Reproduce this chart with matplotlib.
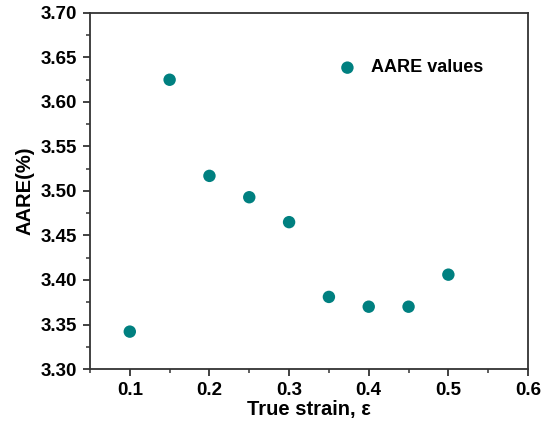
import numpy as np
import matplotlib.pyplot as plt
from matplotlib.ticker import MultipleLocator

plt.rcParams['font.family'] = ['Liberation Sans', 'DejaVu Sans']

strain = [0.10, 0.15, 0.20, 0.25, 0.30, 0.35, 0.40, 0.45, 0.50]
aare = [3.342, 3.625, 3.517, 3.493, 3.465, 3.381, 3.370, 3.370, 3.406]

fig = plt.figure(figsize=(5.43, 4.26), dpi=100)
ax = fig.add_axes([0.1657, 0.1338, 0.8067, 0.8357])

ax.scatter(strain, aare, s=80, color="#008080", edgecolors="none",
           label="AARE values", zorder=3)

ax.set_xlim(0.05, 0.6)
ax.set_ylim(3.30, 3.70)
ax.xaxis.set_major_locator(MultipleLocator(0.1))
ax.xaxis.set_minor_locator(MultipleLocator(0.05))
ax.yaxis.set_major_locator(MultipleLocator(0.05))
ax.yaxis.set_minor_locator(MultipleLocator(0.025))
ax.xaxis.set_major_formatter(plt.FuncFormatter(lambda v, p: f"{v:.1f}"))
ax.yaxis.set_major_formatter(plt.FuncFormatter(lambda v, p: f"{v:.2f}"))

for s in ax.spines.values():
    s.set_linewidth(1.3)
    s.set_color("#333333")
ax.tick_params(which="major", direction="out", length=5, width=1.3,
               labelsize=13.5, colors="#333333", labelcolor="black", pad=4)
ax.tick_params(which="minor", direction="out", length=3, width=1.1,
               colors="#333333")
for lab in ax.get_xticklabels() + ax.get_yticklabels():
    lab.set_fontweight("bold")

ax.set_xlabel("True strain, ε", fontsize=14.5, fontweight="bold", labelpad=1)
ax.set_ylabel("AARE(%)", fontsize=14.5, fontweight="bold", labelpad=5)

ax.legend(loc="upper left", bbox_to_anchor=(0.53, 0.89), frameon=False,
          prop={"size": 13, "weight": "bold"}, handletextpad=0.3,
          borderaxespad=0)

fig.savefig("out.png", dpi=100)
